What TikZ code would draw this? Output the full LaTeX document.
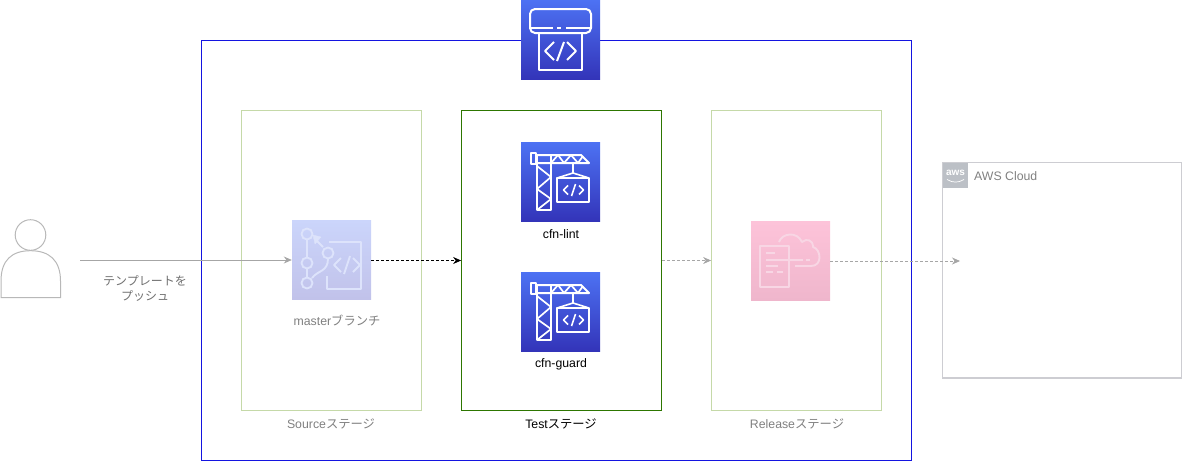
\documentclass[tikz,border=0pt]{standalone}
\usepackage{fontspec}
\setmainfont{Liberation Sans}
\newfontfamily\cjk{Noto Sans CJK JP}
\usetikzlibrary{arrows.meta}
\definecolor{blueA}{HTML}{4D72F3}
\definecolor{blueB}{HTML}{3334B9}
\definecolor{fadeA}{HTML}{CBD5FB}
\definecolor{fadeB}{HTML}{C1C2EA}
\definecolor{pinkA}{HTML}{FDC3D9}
\definecolor{pinkB}{HTML}{EFB6CC}
\definecolor{fadeline}{HTML}{DDE3FB}
\definecolor{pinkline}{HTML}{F8D6E4}
\definecolor{stagegreen}{HTML}{C5D9A8}
\definecolor{testgreen}{HTML}{2D7600}
\definecolor{outerblue}{HTML}{1414E0}
\definecolor{cloudgray}{HTML}{CDCDD2}
\definecolor{logogray}{HTML}{BCC0C6}
\definecolor{labelgray}{HTML}{808080}
\definecolor{pushgray}{HTML}{707070}
\definecolor{personline}{HTML}{B8B8B8}
\definecolor{flowgray}{HTML}{A6A6A6}
\tikzset{
  stagebox/.style={draw=#1,line width=0.8pt,inner sep=0pt,fill=none},
  icon/.style={inner sep=0pt,minimum width=79pt,minimum height=79pt,top color=#1A,bottom color=#1B},
  label/.style={inner sep=0pt,font=\fontsize{12.3}{14}\selectfont,align=center},
  glyph/.style={draw=white,line width=2pt,line join=round,fill=none},
  fadeglyph/.style={draw=#1,line width=1.9pt,line join=round,fill=none},
  flow/.style={draw=flowgray,line width=0.8pt,-{Stealth[length=8pt,width=7pt]}},
  crane/.pic={
    \draw[glyph] (16,13) rectangle (30,68);
    \draw[glyph] (9.5,11) rectangle (15,22);
    \draw[glyph] (15,13) -- (60,13) -- (68,21) -- (15,21);
    \draw[glyph,line width=1.7pt] (30,21) -- (37,13) -- (43,21) -- (50,13) -- (57,21) -- (62,14);
    \draw[glyph,line width=1.7pt] (16,24) -- (30,35) -- (16,47) -- (30,57) -- (16,68);
    \draw[glyph] (36,36) rectangle (68,60);
    \draw[glyph,line width=1.6pt] (36,36) -- (52,31) -- (68,36) (52,21) -- (52,31);
    \draw[glyph,line width=1.6pt] (47,43.5) -- (42.5,48) -- (47,52.5) (58,43.5) -- (62.5,48) -- (58,52.5) (54.5,42) -- (50.5,54);
  }
}
\begin{document}
\begin{tikzpicture}[x=1pt,y=-1pt]
\useasboundingbox (0,0) rectangle (1182,461);
% boxes
\node[stagebox=outerblue,minimum width=710pt,minimum height=420pt] (outer) at (556.5,250.5) {};
\node[stagebox=stagegreen,minimum width=180pt,minimum height=300pt] (source) at (331.5,260.5) {};
\node[stagebox=testgreen,minimum width=200pt,minimum height=300pt] (test) at (561.5,260.5) {};
\node[stagebox=stagegreen,minimum width=170pt,minimum height=300pt] (release) at (796.5,260.5) {};
\node[stagebox=cloudgray,line width=1.3pt,minimum width=239pt,minimum height=215.5pt] (cloud) at (1062,270.3) {};
\node[inner sep=0pt,minimum size=25pt,fill=logogray] (logo) at (955.5,175.5) {};
\node[inner sep=0pt,text=white,font=\bfseries\fontsize{10}{10}\selectfont] (awstext) at (955.5,172.5) {aws};
\draw[white,line width=0.7pt] (947,179.5) .. controls (953,183) and (958,183) .. (964,179.5);
\node[label,text=labelgray,anchor=west] (cloudlabel) at (974,176.5) {AWS Cloud};
% top icon
\node[icon=blue] (topicon) at (560.5,39.5) {};
\begin{scope}[shift={(521,0)}]
  \draw[glyph,rounded corners=5pt] (9,9) rectangle (70,33);
  \draw[draw=white,line width=2pt] (9,28) -- (32,28) (36,28) -- (40,28) (45,28) -- (70,28);
  \draw[glyph,fill=none] (18,33) -- (18,70) -- (61,70) -- (61,33);
  \draw[glyph] (33,42) -- (24,51) -- (33,60) (46,42) -- (55,51) -- (46,60) (43,42) -- (36,61);
\end{scope}
% crane icons
\node[icon=blue] (lint) at (560.5,181.5) {};
\pic at (521,142) {crane};
\node[icon=blue] (guard) at (560.5,311.5) {};
\pic at (521,272) {crane};
\node[label] (lintlabel) at (561,234) {cfn-lint};
\node[label] (guardlabel) at (561,364) {cfn-guard};
% source icon
\node[icon=fade] (repo) at (331.5,259.5) {};
\begin{scope}[shift={(292,220)}]
  \draw[fadeglyph=fadeline] (15,14) circle (5.5pt) (15,43) circle (5.5pt) (15,63) circle (5.5pt) (36,33) circle (5.5pt);
  \draw[fadeglyph=fadeline] (15,19.5) -- (15,37.5) (15,48.5) -- (15,57.5);
  \draw[fadeglyph=fadeline] (20,58) .. controls (26,50) and (36,52) .. (36,38.5);
  \draw[fadeglyph=fadeline] (31,27) -- (22,18);
  \draw[fadeline,fill=fadeline] (21,15) -- (29,17) -- (23,24) -- cycle;
  \draw[fadeglyph=fadeline] (37,22) -- (69,22) -- (69,69) -- (35,69) -- (35,56);
  \draw[fadeglyph=fadeline] (49,38) -- (42,45) -- (49,52) (61,38) -- (68,45) -- (61,52);
  \draw[fadeglyph=fadeline] (58,36) -- (52,54);
\end{scope}
\node[label,text=labelgray] (repolabel) at (337,320) {master{\cjk ブランチ}};
% release icon
\node[icon=pink] (cfn) at (790.5,261) {};
\begin{scope}[shift={(751,222)}]
  \draw[fadeglyph=pinkline] (9,24) rectangle (38,65);
  \draw[fadeglyph=pinkline] (15,31) -- (24,31) (15,38) -- (52,38) (55,38) -- (59,38) (15,44) -- (27,44) (15,50) -- (22,50) (26,50) -- (32,50);
  \draw[fadeglyph=pinkline] (28,20) .. controls (31,11) and (46,9) .. (51,20) .. controls (56,16) and (62,18) .. (62,25) .. controls (70,27) and (72,44) .. (60,44) -- (44,44);
\end{scope}
% person
\node[inner sep=0pt,minimum width=61pt,minimum height=78pt] (person) at (30.5,259) {};
\draw[personline,line width=1pt] (30.5,235) circle (15.3pt);
\draw[personline,line width=1pt] (1,297.5) -- (1,281) .. controls (1,260) and (12,250.7) .. (30.5,250.7) .. controls (49,250.7) and (60.5,260) .. (60.5,281) -- (60.5,297.5) -- cycle;
\coordinate (pushstart) at (80,260);
\coordinate (cloudend) at (960,261);
% connectors
\draw[flow] (pushstart) -- (repo.west |- pushstart);
\draw[black,line width=0.8pt,densely dashed,-{Stealth[length=8pt,width=7pt]}] (repo.east |- test.west) -- (test.west);
\draw[flow,densely dashed] (test.east) -- (release.west);
\draw[flow,densely dashed] (cfn.east) -- (cloudend);
% labels
\node[label,text=labelgray] (sourcelabel) at (331,424) {Source{\cjk ステージ}};
\node[label] (testlabel) at (561,424) {Test{\cjk ステージ}};
\node[label,text=labelgray] (releaselabel) at (797,424) {Release{\cjk ステージ}};
\node[label,text=pushgray,font=\cjk\fontsize{12}{15}\selectfont] (pushlabel) at (145,288) {テンプレートを\\プッシュ};
\end{tikzpicture}
\end{document}
